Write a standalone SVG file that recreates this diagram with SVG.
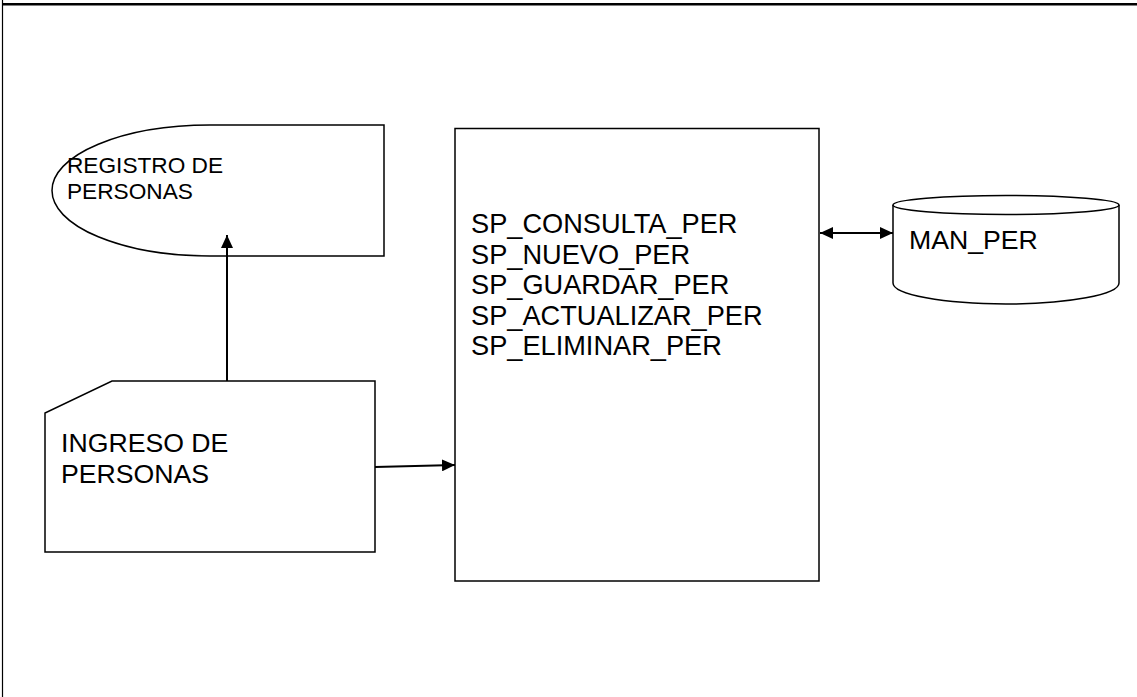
<svg xmlns="http://www.w3.org/2000/svg" width="1137" height="697" viewBox="0 0 1137 697">
<style>
.s{fill:#fff;stroke:#000;stroke-width:1.5}
.c{fill:none;stroke:#000;stroke-width:2}
text{font-family:"Liberation Sans",Arial,sans-serif;fill:#000}
.t{font-size:26.67px}
.p{font-size:27.2px}
.r{font-size:22.67px}
</style>
<defs>
<marker id="ah" viewBox="0 0 13 12" refX="13" refY="6" markerWidth="13" markerHeight="12" markerUnits="userSpaceOnUse" orient="auto-start-reverse">
<path d="M0,0 L13,6 L0,12 Z" fill="#000"/>
</marker>
</defs>
<rect width="1137" height="697" fill="#fff"/>
<g id="frame">
<line x1="2.5" y1="0" x2="2.5" y2="697" stroke="#000" stroke-width="1.2"/>
<line x1="2" y1="4.3" x2="1137" y2="4.3" stroke="#000" stroke-width="2.4"/>
</g>
<g id="registro">
<path class="s" d="M384,125 L210,125 A158,65.5 0 0 0 210,256 L384,256 Z"/>
<text class="r" x="67" y="173">REGISTRO DE</text>
<text class="r" x="67" y="199">PERSONAS</text>
</g>
<g id="ingreso">
<path class="s" d="M112,381 L375,381 L375,552 L45,552 L45,413 Z"/>
<text class="t" x="61" y="452">INGRESO DE</text>
<text class="t" x="61" y="483">PERSONAS</text>
</g>
<g id="procesos">
<rect class="s" x="455" y="128.5" width="364" height="452.5"/>
<text class="p" x="471" y="233">SP_CONSULTA_PER</text>
<text class="p" x="471" y="263.5">SP_NUEVO_PER</text>
<text class="p" x="471" y="294">SP_GUARDAR_PER</text>
<text class="p" x="471" y="324.5">SP_ACTUALIZAR_PER</text>
<text class="p" x="471" y="355">SP_ELIMINAR_PER</text>
</g>
<g id="man_per">
<path class="s" d="M893,205 L893,283 A113,21 0 0 0 1119,283 L1119,205 A113,9.5 0 0 0 893,205 Z"/>
<path class="s" fill="none" d="M893,205 A113,9.5 0 0 0 1119,205"/>
<text class="t" x="909" y="249">MAN_PER</text>
</g>
<g id="connectors">
<line class="c" x1="227" y1="381" x2="227" y2="235" marker-end="url(#ah)"/>
<line class="c" x1="375" y1="467" x2="455" y2="465" marker-end="url(#ah)"/>
<line class="c" x1="820" y1="233" x2="893" y2="233" marker-start="url(#ah)" marker-end="url(#ah)"/>
</g>
</svg>
